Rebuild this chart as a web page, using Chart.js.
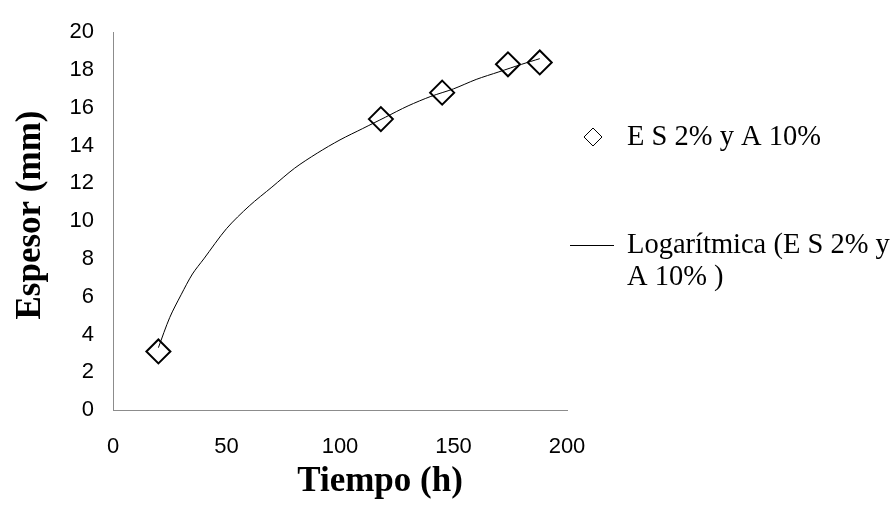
<!DOCTYPE html>
<html>
<head>
<meta charset="utf-8">
<script src="https://cdn.jsdelivr.net/npm/chart.js@4/dist/chart.umd.min.js"></script>
<style>
  html, body { margin: 0; padding: 0; background: #fff; }
  canvas { display: block; }
</style>
</head>
<body>
<canvas id="myChart" width="896" height="511"></canvas>
<script>
// measured thickness vs time
const tiempo = [20, 118, 145, 174, 188];
const espesor = [3.1, 15.4, 16.8, 18.3, 18.4];

// logarithmic trend curve, read along its path
const trendTiempo = [20, 25, 30, 35, 40, 50, 60, 70, 80, 90, 100, 110, 120, 130, 140, 150, 160, 170, 180, 188];
const trendEspesor = [3.3, 4.9, 6.1, 7.2, 8.0, 9.6, 10.8, 11.8, 12.8, 13.6, 14.3, 14.9, 15.5, 16.1, 16.6, 17.0, 17.5, 17.9, 18.3, 18.6];

const xTicks = [0, 50, 100, 150, 200];
const yTicks = [0, 2, 4, 6, 8, 10, 12, 14, 16, 18, 20];

const serieName = 'E S 2% y A 10%';
const trendName = ['Logarítmica (E S 2% y', 'A 10% )'];
const xTitle = 'Tiempo (h)';
const yTitle = 'Espesor (mm)';

const toPoints = (xs, ys) => xs.map((x, i) => ({x: x, y: ys[i]}));

//Axis titles and legend drawn by hand
const extras = {
  id: 'extras',
  afterDraw(chart) {
    const ctx = chart.ctx;
    ctx.save();
    ctx.fillStyle = '#000';
    ctx.textBaseline = 'middle';

    ctx.font = 'bold 35px "Liberation Serif", "Times New Roman", serif';
    ctx.textAlign = 'center';
    ctx.fillText(xTitle, 380, 482);

    ctx.translate(31, 215);
    ctx.rotate(-Math.PI / 2);
    ctx.fillText(yTitle, 0, 0);
    ctx.setTransform(1, 0, 0, 1, 0, 0);

    // legend
    ctx.strokeStyle = '#000';
    ctx.fillStyle = '#fff';
    Chart.helpers.drawPoint(ctx, {pointStyle: 'rectRot', radius: 9, borderWidth: 2}, 593, 137);

    ctx.lineWidth = 1;
    ctx.beginPath();
    ctx.moveTo(570, 245.5);
    ctx.lineTo(614, 245.5);
    ctx.stroke();

    ctx.fillStyle = '#000';
    ctx.font = '28.5px "Liberation Serif", "Times New Roman", serif';
    ctx.textAlign = 'left';
    ctx.fillText(serieName, 627, 138);
    ctx.fillText(trendName[0], 627, 246);
    ctx.fillText(trendName[1], 627, 278);
    ctx.restore();
  }
};

const config = {
  type: 'scatter',
  data: {
    datasets: [{
      label: serieName,
      data: toPoints(tiempo, espesor),
      pointStyle: 'rectRot',
      pointRadius: 12,
      pointHoverRadius: 12,
      pointBorderWidth: 2,
      pointBorderColor: '#000',
      pointBackgroundColor: 'rgba(0,0,0,0)',
      showLine: false,
    }, {
      label: trendName.join(' '),
      data: toPoints(trendTiempo, trendEspesor),
      showLine: true,
      borderColor: '#000',
      borderWidth: 1,
      tension: 0.3,
      pointRadius: 0,
      pointHoverRadius: 0,
    }]
  },
  options: {
    responsive: false,
    animation: false,
    events: [],
    layout: {
      padding: {left: 0, top: 20, right: 329, bottom: 0}
    },
    plugins: {
      legend: {display: false},
      tooltip: {enabled: false},
    },
    scales: {
      x: {
        type: 'linear',
        min: 0,
        max: 200,
        afterBuildTicks: scale => { scale.ticks = xTicks.map(v => ({value: v})); },
        afterFit: scale => { scale.height = 101; },
        grid: {display: false, drawTicks: false},
        border: {display: true, color: '#8c8c8c', width: 1},
        ticks: {
          color: '#000',
          padding: 24,
          font: {family: '"Liberation Sans", Arial, sans-serif', size: 22},
        }
      },
      y: {
        min: 0,
        max: 20,
        afterBuildTicks: scale => { scale.ticks = yTicks.map(v => ({value: v})); },
        afterFit: scale => { scale.width = 113; },
        grid: {display: false, drawTicks: false},
        border: {display: true, color: '#8c8c8c', width: 1},
        ticks: {
          color: '#000',
          padding: 19,
          font: {family: '"Liberation Sans", Arial, sans-serif', size: 22},
        }
      }
    }
  },
  plugins: [extras]
};

const myChart = new Chart(document.getElementById('myChart'), config);
</script>
</body>
</html>
